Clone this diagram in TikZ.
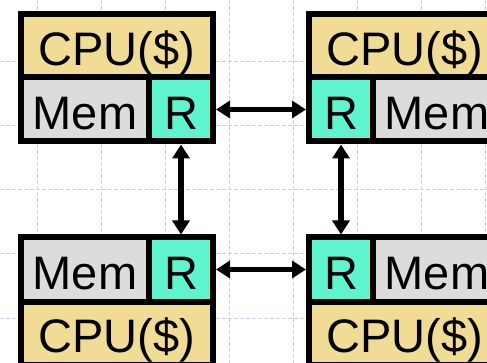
\documentclass[tikz,border=0pt]{standalone}
\usepackage{fontspec}
\setmainfont{Liberation Sans}
\usepackage{xcolor}
\usetikzlibrary{arrows.meta}

\definecolor{cpufill}{RGB}{240,220,148}
\definecolor{memfill}{RGB}{220,220,220}
\definecolor{rtrfill}{RGB}{94,245,206}
\definecolor{gridline}{RGB}{196,208,250}

\begin{document}
\begin{tikzpicture}[
  x=1pt, y=-1pt,
  cell/.style={rectangle, draw=black, line width=6pt, inner sep=0pt,
               text height=39.5pt, text depth=0pt,
               font=\fontsize{47}{50}\selectfont},
  cpu/.style={cell, fill=cpufill, minimum width=192pt, minimum height=63pt},
  mem/.style={cell, fill=memfill, minimum width=128pt, minimum height=64pt},
  rtr/.style={cell, fill=rtrfill, minimum width=64pt, minimum height=64pt},
  link/.style={{Triangle[length=14pt,width=17pt]}-{Triangle[length=14pt,width=17pt]}, line width=5.5pt},
  gridrule/.style={draw=gridline, line width=1pt, dash pattern=on 4pt off 2pt}
]
\path[use as bounding box, clip] (0,0) rectangle (487,363);

% Background grid
\foreach \gx in {37,101,...,485}
  \draw[gridrule] (\gx,0) -- (\gx,363);
\foreach \gy in {62,126,...,318}
  \draw[gridrule] (0,\gy) -- (487,\gy);

% Top left node
\node[cpu] (cpuA) at (117,46) {CPU(\$)};
\node[mem] (memA) at (85,109.5) {Mem};
\node[rtr] (rA) at (181,109.5) {R};

% Top right node
\node[cpu] (cpuB) at (405,46) {CPU(\$)};
\node[rtr] (rB) at (341,109.5) {R};
\node[mem] (memB) at (437,109.5) {Mem};

% Bottom left node
\node[mem] (memC) at (85,269.5) {Mem};
\node[rtr] (rC) at (181,269.5) {R};
\node[cpu] (cpuC) at (117,333) {CPU(\$)};

% Bottom right node
\node[rtr] (rD) at (341,269.5) {R};
\node[mem] (memD) at (437,269.5) {Mem};
\node[cpu] (cpuD) at (405,333) {CPU(\$)};

% Links
\draw[link] (rA) -- (rB);
\draw[link] (rC) -- (rD);
\draw[link] (rA) -- (rC);
\draw[link] (rB) -- (rD);
\end{tikzpicture}
\end{document}
